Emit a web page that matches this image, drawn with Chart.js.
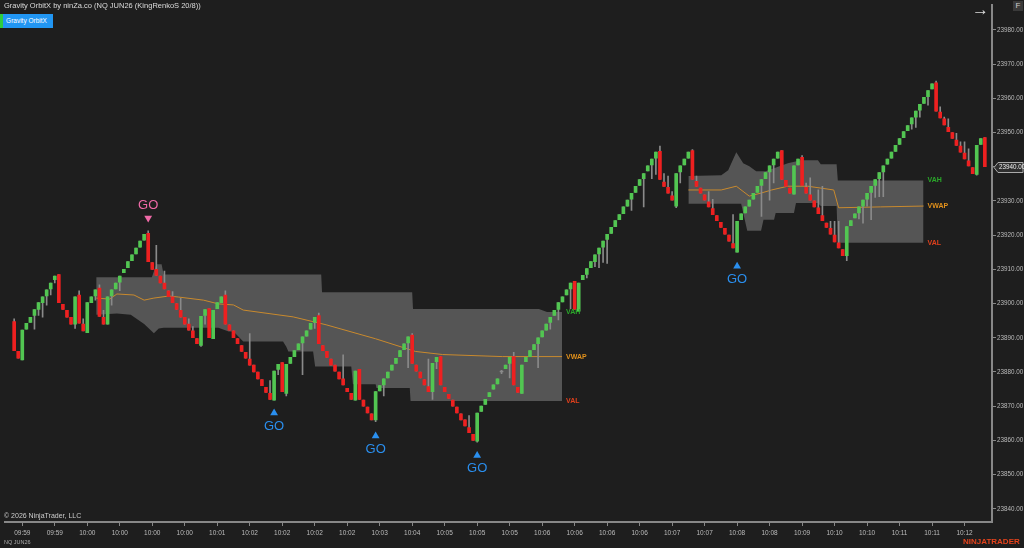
<!DOCTYPE html>
<html>
<head>
<meta charset="utf-8">
<script src="https://cdn.jsdelivr.net/npm/chart.js@4.4.1/dist/chart.umd.min.js"></script>
<style>
html, body { margin: 0; padding: 0; background: #1e1e1e; }
#wrap { position: relative; width: 1024px; height: 548px; background: #1e1e1e; overflow: hidden; }
.t { position: absolute; font-family: Arial, "Liberation Sans", sans-serif; white-space: nowrap; }
</style>
</head>
<body>
<div id="wrap">
  <canvas id="myChart"></canvas>
  <div class="t" style="left:4px;top:1px;font-size:7.5px;color:#dcdcdc">Gravity OrbitX by ninZa.co (NQ JUN26 (KingRenkoS 20/8))</div>
  <div class="t" style="left:0;top:14px;width:53px;height:14px;background:#2196f3;color:#fff;font-size:6.5px;line-height:14px;text-align:center">Gravity OrbitX</div>
  <div class="t" style="left:0;top:14px;width:3px;height:14px;background:#2ecc40"></div>
  <div class="t" style="left:972px;top:0px;font-size:17px;color:#ddd">&rarr;</div>
  <div class="t" style="left:1013px;top:1px;width:10px;height:10px;background:#3a3a3a;color:#ccc;font-size:8px;line-height:10px;text-align:center">F</div>
  <div class="t" style="left:4px;top:512px;font-size:7px;color:#ccc">&copy; 2026 NinjaTrader, LLC</div>
  <div class="t" style="left:4px;top:539px;font-size:5.5px;color:#aaa">NQ JUN26</div>
  <div class="t" style="left:963px;top:537px;font-size:8px;font-weight:bold;color:#e5431c">NINJATRADER</div>
</div>
<script>
// renko bricks, one entry per bar (bar index = position)
var opens = [
  23894.75, 23886, 23883.5, 23892.5, 23894.5, 23896.5, 23898.25, 23900.25, 23902.25, 23904.25,
  23907, 23908.5, 23899.75, 23898, 23896, 23894, 23902.5, 23894, 23891.5, 23900.25,
  23902.25, 23904.5, 23896, 23894, 23902.25, 23904.25, 23906.25, 23909, 23910.5, 23912.5,
  23914.5, 23916.5, 23918.5, 23920.5, 23912, 23910, 23908, 23906, 23903.75, 23902,
  23900, 23898, 23896, 23894, 23892, 23889.75, 23887.75, 23896.5, 23898.5, 23889.75,
  23898.5, 23900.25, 23902.5, 23893.75, 23892, 23889.75, 23887.75, 23885.75, 23883.75, 23882,
  23880, 23877.75, 23875.5, 23873.75, 23871.75, 23880.75, 23882.75, 23873.75, 23882.5, 23884.5,
  23886.5, 23888.5, 23890.5, 23892.5, 23894.5, 23896.5, 23887.75, 23886, 23883.75, 23882,
  23880, 23878, 23875.25, 23873.75, 23871.75, 23880.75, 23871.75, 23869.75, 23867.75, 23866,
  23874.5, 23876.25, 23878.25, 23880.5, 23882.5, 23884.5, 23886.5, 23888.5, 23890.75, 23882,
  23880, 23877.75, 23875.75, 23874.25, 23883, 23884.5, 23875.5, 23873.5, 23871.75, 23869.75,
  23867.75, 23866, 23863.75, 23861.75, 23859.75, 23868.5, 23870.5, 23872.75, 23875, 23876.5,
  23880, 23881, 23882.5, 23884.5, 23875.5, 23873.75, 23883, 23884.5, 23886.5, 23888.25,
  23890.25, 23892.25, 23894.5, 23896.5, 23898.25, 23900.5, 23902.5, 23904.25, 23906.5, 23897.75,
  23907, 23908.5, 23910.5, 23912.25, 23914.5, 23916.5, 23918.75, 23920.5, 23922.5, 23924.5,
  23926.25, 23928.5, 23930.5, 23932.5, 23934.5, 23936.5, 23938.75, 23940.5, 23942.5, 23944.5,
  23935.5, 23934, 23931.5, 23928.5, 23938.5, 23940.5, 23942.5, 23944.75, 23935.75, 23933.75,
  23931.75, 23929.75, 23927.75, 23925.75, 23923.75, 23922, 23920, 23917.5, 23915, 23924.5,
  23926.5, 23928.5, 23930.5, 23932.5, 23934.5, 23936.5, 23938.5, 23940.5, 23942.5, 23944.75,
  23936, 23933.75, 23932, 23940.5, 23942.75, 23934, 23931.75, 23930, 23928, 23925.75,
  23923.5, 23922, 23920, 23917.75, 23915.75, 23914, 23922.75, 23925, 23926.5, 23928.5,
  23930.5, 23932.5, 23934.5, 23936.5, 23938.5, 23940.75, 23942.5, 23944.5, 23946.5, 23948.5,
  23950.5, 23952.5, 23954.5, 23956.5, 23958.5, 23960.5, 23962.75, 23964.5, 23956, 23954,
  23951.5, 23950, 23947.75, 23946, 23944, 23941.75, 23939.75, 23937.75, 23946.5, 23948.5
];
var highs = [
  23895.5, 23886, 23892.25, 23894.25, 23896, 23898.25, 23900.25, 23902, 23904, 23906,
  23908, 23908.5, 23899.75, 23898, 23896, 23902, 23903.75, 23895.5, 23900.25, 23902,
  23904, 23905.5, 23898, 23902, 23904, 23906, 23908, 23910, 23912.25, 23914.25,
  23916.25, 23918.25, 23920.25, 23921.25, 23912, 23917, 23908, 23909.5, 23903.75, 23903.5,
  23900, 23901.5, 23896, 23895.5, 23893.25, 23889.75, 23896.25, 23898.25, 23898.5, 23898,
  23900.25, 23902, 23903.75, 23893.75, 23892, 23889.75, 23887.75, 23885.75, 23891.25, 23882,
  23880, 23877.75, 23875.5, 23877.5, 23880.25, 23882.25, 23882.75, 23882.25, 23884.25, 23886.25,
  23888.25, 23890.25, 23892, 23894.25, 23896, 23897.25, 23887.75, 23886, 23883.75, 23882,
  23880, 23885, 23875.25, 23873.75, 23880.25, 23880.75, 23871.75, 23869.75, 23867.75, 23874.25,
  23876, 23878, 23880, 23882, 23884, 23886.25, 23888.25, 23890.25, 23891.25, 23882,
  23880, 23877.75, 23883.75, 23882.5, 23884.25, 23884.5, 23875.5, 23873.5, 23871.75, 23869.75,
  23867.75, 23866, 23867.25, 23861.75, 23868, 23870, 23872, 23874, 23876.25, 23878,
  23880.5, 23882, 23884.25, 23885.75, 23875.5, 23882, 23884.25, 23886.25, 23888, 23890,
  23892, 23894, 23896, 23898, 23900.25, 23902, 23904, 23906, 23906.5, 23906,
  23908.25, 23910.25, 23912.25, 23914.25, 23916.25, 23918.25, 23920.25, 23922.25, 23924.25, 23926,
  23928.25, 23930.25, 23932.25, 23934.25, 23936.25, 23938, 23940.25, 23942.25, 23944.25, 23946,
  23938, 23937.25, 23932.75, 23938, 23940.25, 23942.25, 23944.25, 23945, 23937.25, 23933.75,
  23931.75, 23932.75, 23930.5, 23925.75, 23923.75, 23922, 23920, 23926, 23924, 23926.25,
  23928.25, 23930.25, 23932.25, 23934.25, 23936.25, 23938.25, 23940.25, 23942.25, 23944.25, 23944.75,
  23936, 23933.75, 23940.25, 23942.25, 23943.25, 23935.25, 23936.75, 23930, 23933.25, 23934.25,
  23923.5, 23924, 23924, 23924, 23915.75, 23922.5, 23924.25, 23926.25, 23928.25, 23930.25,
  23932.25, 23934.25, 23936.25, 23938.25, 23940.25, 23942.25, 23944.25, 23946.25, 23948.25, 23950.25,
  23952, 23954.25, 23956.25, 23958.25, 23960.25, 23962.25, 23964.25, 23965, 23957.5, 23954.5,
  23954, 23950, 23949.75, 23947.25, 23947.25, 23945.25, 23939.75, 23946.25, 23948.25, 23948.5
];
var lows = [
  23886.25, 23884, 23883.5, 23892.5, 23894.5, 23892.5, 23896.5, 23896, 23899.5, 23902.5,
  23906, 23900.25, 23898.25, 23896, 23894, 23892.75, 23894.25, 23892, 23891.5, 23900.25,
  23901, 23896.25, 23894, 23894, 23899.5, 23904.25, 23903.75, 23909, 23910.5, 23912.5,
  23914.5, 23916.5, 23918.5, 23912.25, 23910, 23908.25, 23906, 23904.25, 23902, 23900.25,
  23898.25, 23896, 23894, 23892.25, 23890, 23888.25, 23887.5, 23894, 23890, 23889.75,
  23898.5, 23900.25, 23894, 23892.25, 23890, 23888.25, 23886, 23884, 23882, 23880,
  23878, 23876, 23874, 23872, 23871.75, 23879.25, 23874.25, 23873, 23882.5, 23884.5,
  23886.5, 23879.25, 23890.5, 23892.5, 23892.75, 23888.25, 23886.25, 23884.25, 23882, 23880.25,
  23878, 23876.25, 23874.25, 23872, 23871.75, 23872, 23870, 23868, 23866, 23865.5,
  23874.5, 23873, 23878.25, 23880.5, 23882.5, 23884.5, 23886.5, 23881.25, 23882.5, 23880.25,
  23878.25, 23876.25, 23874.25, 23872, 23881, 23876.25, 23874.25, 23872.25, 23870, 23868,
  23866, 23864.25, 23862.25, 23860, 23859.5, 23868.5, 23870.5, 23872.75, 23875, 23876.5,
  23879.5, 23881, 23878.25, 23876.25, 23874, 23873.75, 23883, 23884.5, 23886.5, 23881.25,
  23890.25, 23892.25, 23892.5, 23896.5, 23895.25, 23900.5, 23902.5, 23898.5, 23898.25, 23897.75,
  23907, 23907.5, 23910.5, 23910.75, 23910.5, 23912, 23911.75, 23920.5, 23922.5, 23924.5,
  23926.25, 23928.5, 23927.25, 23932.5, 23934.5, 23928.25, 23938.75, 23936.5, 23937.75, 23936.25,
  23934.25, 23932.25, 23930.25, 23928, 23935.25, 23940.5, 23942.5, 23936.25, 23934.25, 23932.25,
  23930.25, 23928.25, 23926, 23924.25, 23922.25, 23920.25, 23918.25, 23916.25, 23915, 23924.5,
  23926.5, 23928.5, 23930.5, 23932.5, 23925.5, 23936.5, 23930.25, 23935.25, 23942.5, 23936.25,
  23934.25, 23932.25, 23932, 23940.5, 23934.5, 23932.25, 23930.25, 23928.25, 23926.25, 23924.25,
  23922.25, 23920.25, 23918, 23916.25, 23914, 23912.5, 23922.75, 23925, 23924.75, 23923.5,
  23928.5, 23924.5, 23931, 23931.25, 23931.25, 23940.75, 23942.5, 23944.5, 23946.5, 23948.5,
  23950.5, 23951, 23951.5, 23954.5, 23958.5, 23958, 23962.75, 23956.25, 23954.25, 23952.25,
  23950.25, 23948.25, 23946.25, 23944.25, 23942.25, 23940.25, 23938, 23937.5, 23946.5, 23940
];
var closes = [
  23886.25, 23884, 23892.25, 23894.25, 23896, 23898.25, 23900.25, 23902, 23904, 23906,
  23908, 23900.25, 23898.25, 23896, 23894, 23902, 23894.25, 23892, 23900.25, 23902,
  23904, 23896.25, 23894, 23902, 23904, 23906, 23908, 23910, 23912.25, 23914.25,
  23916.25, 23918.25, 23920.25, 23912.25, 23910, 23908.25, 23906, 23904.25, 23902, 23900.25,
  23898.25, 23896, 23894, 23892.25, 23890, 23888.25, 23896.25, 23898.25, 23890, 23898,
  23900.25, 23902, 23894, 23892.25, 23890, 23888.25, 23886, 23884, 23882, 23880,
  23878, 23876, 23874, 23872, 23880.25, 23882.25, 23874.25, 23882.25, 23884.25, 23886.25,
  23888.25, 23890.25, 23892, 23894.25, 23896, 23888.25, 23886.25, 23884.25, 23882, 23880.25,
  23878, 23876.25, 23874.25, 23872, 23880.25, 23872, 23870, 23868, 23866, 23874.25,
  23876, 23878, 23880, 23882, 23884, 23886.25, 23888.25, 23890.25, 23882.5, 23880.25,
  23878.25, 23876.25, 23874.25, 23882.5, 23884.25, 23876.25, 23874.25, 23872.25, 23870, 23868,
  23866, 23864.25, 23862.25, 23860, 23868, 23870, 23872, 23874, 23876.25, 23878,
  23880, 23882, 23884.25, 23876.25, 23874, 23882, 23884.25, 23886.25, 23888, 23890,
  23892, 23894, 23896, 23898, 23900.25, 23902, 23904, 23906, 23898.25, 23906,
  23908.25, 23910.25, 23912.25, 23914.25, 23916.25, 23918.25, 23920.25, 23922.25, 23924.25, 23926,
  23928.25, 23930.25, 23932.25, 23934.25, 23936.25, 23938, 23940.25, 23942.25, 23944.25, 23936.25,
  23934.25, 23932.25, 23930.25, 23938, 23940.25, 23942.25, 23944.25, 23936.25, 23934.25, 23932.25,
  23930.25, 23928.25, 23926, 23924.25, 23922.25, 23920.25, 23918.25, 23916.25, 23924, 23926.25,
  23928.25, 23930.25, 23932.25, 23934.25, 23936.25, 23938.25, 23940.25, 23942.25, 23944.25, 23936.25,
  23934.25, 23932.25, 23940.25, 23942.25, 23934.5, 23932.25, 23930.25, 23928.25, 23926.25, 23924.25,
  23922.25, 23920.25, 23918, 23916.25, 23914, 23922.5, 23924.25, 23926.25, 23928.25, 23930.25,
  23932.25, 23934.25, 23936.25, 23938.25, 23940.25, 23942.25, 23944.25, 23946.25, 23948.25, 23950.25,
  23952, 23954.25, 23956.25, 23958.25, 23960.25, 23962.25, 23964.25, 23956.25, 23954.25, 23952.25,
  23950.25, 23948.25, 23946.25, 23944.25, 23942.25, 23940.25, 23938, 23946.25, 23948.25, 23940
];

// time axis labels, one every 8 bricks starting at bar 2
var tickIdx = [2, 10, 18, 26, 34, 42, 50, 58, 66, 74, 82, 90, 98, 106, 114, 122, 130, 138, 146, 154,
  162, 170, 178, 186, 194, 202, 210, 218, 226, 234];
var timeLabels = ['09:59', '09:59', '10:00', '10:00', '10:00', '10:00', '10:01', '10:02', '10:02', '10:02',
  '10:02', '10:03', '10:04', '10:05', '10:05', '10:05', '10:06', '10:06', '10:06', '10:06',
  '10:07', '10:07', '10:08', '10:08', '10:09', '10:10', '10:10', '10:11', '10:11', '10:12'];

// value area bands [bar index, price]
var upperA = [[20.2, 23907.7], [33.9, 23907.7], [35.0, 23911.5], [36.3, 23911.5], [36.8, 23908.5],
  [75.6, 23908.5], [75.8, 23903.3], [98.0, 23903.3], [98.2, 23898.4], [129.2, 23898.4],
  [131.2, 23897.5], [134.9, 23897.5]];
var lowerA = [[20.2, 23896.7], [25.3, 23897.1], [28.7, 23896.7], [32.0, 23894.0], [34.4, 23891.3],
  [35.6, 23892.7], [36.8, 23892.9], [50.3, 23892.9], [52.8, 23891.8], [54.0, 23891.8],
  [56.4, 23888.9], [66.2, 23888.9], [67.0, 23887.4], [67.5, 23886.0], [73.6, 23886.0],
  [74.1, 23881.6], [83.0, 23881.6], [83.4, 23876.4], [89.0, 23876.4], [89.2, 23875.3],
  [97.4, 23875.3], [97.6, 23871.5], [134.9, 23871.5]];
var vwapA = [[20.2, 23901.6], [23.5, 23901.3], [25.3, 23902.8], [29.5, 23902.5], [32.0, 23901.0],
  [34.4, 23901.6], [38.1, 23902.2], [40.5, 23901.9], [46.6, 23901.0], [50.3, 23899.9],
  [54.0, 23899.6], [56.4, 23898.1], [68.7, 23896.1], [76.8, 23893.8], [89.0, 23889.7],
  [98.8, 23886.0], [105.5, 23885.1], [120.2, 23884.5], [134.9, 23884.5]];
var upperB = [[166.0, 23937.3], [174.1, 23937.5], [175.8, 23939.0], [177.8, 23944.2], [179.5, 23941.0],
  [181.0, 23940.1], [182.7, 23938.7], [185.0, 23938.7], [190.5, 23941.0], [193.7, 23941.9],
  [197.9, 23941.9], [198.6, 23940.7], [202.5, 23940.7], [202.8, 23936.0], [223.9, 23936.0]];
var lowerB = [[166.0, 23929.2], [179.0, 23929.2], [180.5, 23921.3], [183.9, 23921.3], [184.5, 23924.5],
  [187.1, 23924.5], [187.5, 23926.5], [192.0, 23926.5], [192.5, 23929.4], [197.9, 23929.4],
  [198.6, 23928.5], [202.5, 23928.5], [202.8, 23917.8], [223.9, 23917.8]];
var vwapB = [[166.0, 23933.2], [174.1, 23933.2], [177.8, 23934.3], [181.0, 23931.4], [183.9, 23932.3],
  [186.5, 23933.2], [190.5, 23934.3], [195.4, 23934.3], [198.6, 23933.75], [201.8, 23933.2],
  [203.0, 23928.0], [213.3, 23928.25], [223.9, 23928.5]];

// GO signals
var goDownIdx = [33];
var goDownPrice = [23925.0];
var goUpIdx = [64, 89, 114, 178];
var goUpPrice = [23868.0, 23861.3, 23855.6, 23910.9];

var upColor = '#52c652';
var downColor = '#ee2020';
var wickColor = '#8a8a8a';
var bandColor = 'rgba(140,140,140,0.5)';
var vwapColor = '#c98a2e';

function pts(arr) { return arr.map(function (p) { return { x: p[0], y: p[1] }; }); }

var bodies = opens.map(function (o, i) {
  return { x: i, y: [Math.min(o, closes[i]), Math.max(o, closes[i])] };
});
var bodyColors = opens.map(function (o, i) {
  return closes[i] > o ? upColor : (closes[i] < o ? downColor : wickColor);
});
var wicks = highs.map(function (h, i) { return { x: i, y: [lows[i], h] }; });

function bandLine(data, fill) {
  return { type: 'line', data: pts(data), borderWidth: 0, pointRadius: 0, tension: 0,
    fill: fill, backgroundColor: bandColor, order: 10 };
}

var overlay = {
  id: 'overlay',
  afterDatasetsDraw: function (chart) {
    var c = chart.ctx, xs = chart.scales.x, ys = chart.scales.y;
    c.save();
    c.font = '13px Arial';
    c.textAlign = 'center';
    c.textBaseline = 'middle';
    c.fillStyle = '#f06aa8';
    goDownIdx.forEach(function (v, i) {
      c.fillText('GO', xs.getPixelForValue(v), ys.getPixelForValue(goDownPrice[i]) - 13);
    });
    c.fillStyle = '#2a8fef';
    goUpIdx.forEach(function (v, i) {
      c.fillText('GO', xs.getPixelForValue(v), ys.getPixelForValue(goUpPrice[i]) + 13);
    });
    c.font = 'bold 7px Arial';
    c.textAlign = 'left';
    [[upperA, vwapA, lowerA], [upperB, vwapB, lowerB]].forEach(function (set) {
      var last = set[0][set[0].length - 1];
      var x = xs.getPixelForValue(last[0]) + 4;
      c.fillStyle = '#2aa82a';
      c.fillText('VAH', x, ys.getPixelForValue(last[1]));
      c.fillStyle = '#e0901c';
      c.fillText('VWAP', x, ys.getPixelForValue(set[1][set[1].length - 1][1]));
      c.fillStyle = '#e0401c';
      c.fillText('VAL', x, ys.getPixelForValue(set[2][set[2].length - 1][1]));
    });
    c.restore();
  },
  afterDraw: function (chart) {
    var c = chart.ctx, ys = chart.scales.y;
    var last = closes[closes.length - 1];
    var y = Math.round(ys.getPixelForValue(last)) + 0.5;
    var x0 = ys.left + 2;
    c.save();
    c.beginPath();
    c.moveTo(x0, y);
    c.lineTo(x0 + 4, y - 5);
    c.lineTo(1023, y - 5);
    c.lineTo(1023, y + 5);
    c.lineTo(x0 + 4, y + 5);
    c.closePath();
    c.fillStyle = '#2e2e2e';
    c.fill();
    c.strokeStyle = '#aaa';
    c.lineWidth = 1;
    c.stroke();
    c.fillStyle = '#eee';
    c.font = '6.3px Arial';
    c.textAlign = 'left';
    c.textBaseline = 'middle';
    c.fillText(last.toFixed(2), x0 + 5, y);
    c.restore();
  }
};

var ctx = document.getElementById('myChart').getContext('2d');
var myChart = new Chart(ctx, {
  type: 'bar',
  data: {
    datasets: [
      bandLine(lowerA, false),
      bandLine(upperA, '-1'),
      bandLine(lowerB, false),
      bandLine(upperB, '-1'),
      { type: 'line', data: pts(vwapA), borderColor: vwapColor, borderWidth: 1, pointRadius: 0, fill: false, order: 5 },
      { type: 'line', data: pts(vwapB), borderColor: vwapColor, borderWidth: 1, pointRadius: 0, fill: false, order: 5 },
      { type: 'bar', data: wicks, backgroundColor: wickColor, barThickness: 1, grouped: false, order: 3 },
      { type: 'bar', data: bodies, backgroundColor: bodyColors, barThickness: 3, minBarLength: 1, grouped: false, order: 2 },
      { type: 'scatter', data: goDownIdx.map(function (v, i) { return { x: v, y: goDownPrice[i] }; }),
        pointStyle: 'triangle', rotation: 180, pointRadius: 4.5, backgroundColor: '#f06aa8', borderWidth: 0, order: 1 },
      { type: 'scatter', data: goUpIdx.map(function (v, i) { return { x: v, y: goUpPrice[i] }; }),
        pointStyle: 'triangle', pointRadius: 4.5, backgroundColor: '#2a8fef', borderWidth: 0, order: 1 }
    ]
  },
  options: {
    responsive: true,
    maintainAspectRatio: false,
    animation: false,
    layout: { padding: 0 },
    plugins: { legend: { display: false }, tooltip: { enabled: false } },
    scales: {
      x: {
        type: 'linear', min: -2.38, max: 240.76, offset: false,
        afterBuildTicks: function (s) { s.ticks = tickIdx.map(function (v) { return { value: v }; }); },
        afterFit: function (s) { s.height = 26; },
        ticks: {
          autoSkip: false, maxRotation: 0, color: '#bbb', font: { size: 6.5, family: 'Arial' }, padding: 3,
          callback: function (v, i) { return timeLabels[i]; }
        },
        grid: { drawOnChartArea: false, offset: false, tickLength: 4, color: '#888' },
        border: { color: '#888', width: 2 }
      },
      y: {
        position: 'right', min: 23836.15, max: 23987.33,
        afterFit: function (s) { s.width = 32; },
        ticks: {
          stepSize: 10, includeBounds: false, color: '#bbb', font: { size: 6.3, family: 'Arial' }, padding: 1,
          callback: function (v) { return v.toFixed(2); }
        },
        grid: { drawOnChartArea: false, tickLength: 4, color: '#888' },
        border: { color: '#888', width: 2 }
      }
    }
  },
  plugins: [overlay]
});
</script>
</body>
</html>
